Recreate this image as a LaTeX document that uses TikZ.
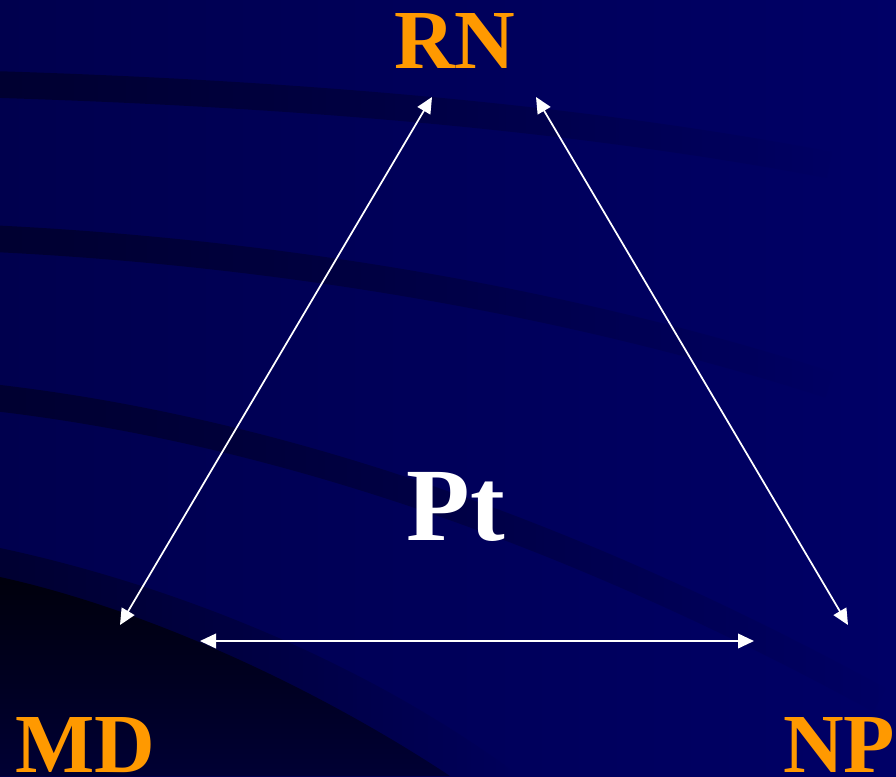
\documentclass[tikz,border=0pt]{standalone}
\usepackage{fontspec}
\setmainfont{Liberation Serif}
\usetikzlibrary{arrows.meta,fadings}
\definecolor{navyL}{RGB}{0,0,78}
\definecolor{navyR}{RGB}{0,0,102}
\definecolor{stripecol}{RGB}{0,0,48}
\definecolor{darkband}{RGB}{0,0,50}
\definecolor{darkestTop}{RGB}{0,0,12}
\definecolor{darkestBot}{RGB}{0,0,52}
\definecolor{labelorange}{RGB}{255,153,0}
\tikzfading[name=fadeR, left color=transparent!0, right color=transparent!100]
\begin{document}
\begin{tikzpicture}[x=0.75pt,y=-0.75pt,
  lbl/.style={font=\fontsize{63}{63}\selectfont\bfseries, text=labelorange, inner sep=0pt, anchor=base},
  ptlbl/.style={font=\fontsize{78}{78}\selectfont\bfseries, text=white, inner sep=0pt, anchor=base},
  stripe/.style={draw=stripecol, line width=20pt, path fading=fadeR},
  link/.style={draw=white, line width=1.3pt, {Triangle[length=12pt,width=11pt]}-{Triangle[length=12pt,width=11pt]}}]
% background
\shade[left color=navyL, right color=navyR] (0,0) rectangle (896,776);
\useasboundingbox (0,0) rectangle (896,776);
% stripes
\draw[stripe] (-20,84) .. controls (250,92) and (550,112) .. (830,165);
\draw[stripe] (-20,238) .. controls (250,250) and (550,295) .. (830,385);
\draw[stripe] (-20,396) .. controls (250,425) and (550,520) .. (880,700);
% lower dark regions
\fill[darkband, path fading=fadeR] (0,548) .. controls (150,580) and (350,650) .. (520,776) -- (0,776) -- cycle;
\shade[top color=darkestTop, bottom color=darkestBot] (0,577) .. controls (150,610) and (320,690) .. (450,776) -- (0,776) -- cycle;
% labels
\node[lbl] (RN) at (455,68) {RN};
\node[lbl] (MD) at (85,772) {MD};
\node[lbl] (NP) at (839,772) {NP};
\node[ptlbl] (Pt) at (456,540) {Pt};
% connector end points
\coordinate (rnL) at (432,97);
\coordinate (rnR) at (536,97);
\coordinate (mdT) at (120,625);
\coordinate (mdR) at (200,641);
\coordinate (npT) at (848,625);
\coordinate (npL) at (754,641);
\draw[link] (mdT) -- (rnL);
\draw[link] (rnR) -- (npT);
\draw[link] (mdR) -- (npL);
\end{tikzpicture}
\end{document}
